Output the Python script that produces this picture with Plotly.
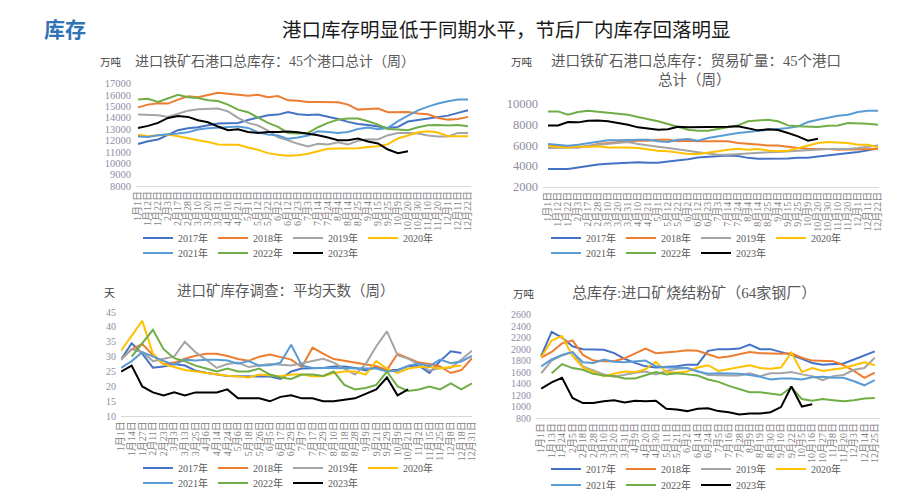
import plotly.graph_objects as go

W, H = 906, 497

years = ["2017年", "2018年", "2019年", "2020年", "2021年", "2022年", "2023年"]
colors = ["#4472C4", "#ED7D31", "#A5A5A5", "#FFC000", "#5B9BD5", "#70AD47", "#000000"]

# ---------- Chart 1: 进口铁矿石港口总库存：45个港口总计（周） ----------
c1_labels = ["1月1日", "1月12日", "1月22日", "2月3日", "2月17日", "2月28日", "3月10日", "3月20日",
             "3月31日", "4月10日", "4月21日", "5月1日", "5月12日", "5月22日", "6月2日", "6月12日",
             "6月23日", "7月3日", "7月14日", "7月24日", "8月4日", "8月14日", "8月25日", "9月4日",
             "9月15日", "9月25日", "10月9日", "10月20日", "10月30日", "11月10日", "11月20日",
             "12月1日", "12月11日", "12月22日"]
c1_2017 = [11700, 11940, 12090, 12530, 12910, 13080, 13170, 13350, 13490, 13520, 13550, 13810, 14020, 14220,
           14280, 14510, 14310, 14250, 14280, 14110, 13900, 13640, 13460, 13370, 13230, 13110, 13200, 13670,
           13810, 13930, 14050, 14190, 14430, 14660]
c1_2018 = [14920, 15160, 15270, 15250, 15600, 15890, 15800, 16030, 16210, 16120, 16060, 15950, 16030, 15800,
           15920, 15540, 15510, 15390, 15390, 15360, 15360, 15160, 14720, 14780, 14810, 14490, 14510, 14510,
           14370, 14310, 13990, 13840, 13900, 14080]
c1_2019 = [14280, 14250, 14220, 14080, 14370, 14630, 14750, 14780, 14810, 14570, 13990, 13550, 13320, 12880,
           12290, 12030, 11710, 11470, 11710, 11650, 11850, 11650, 11970, 12120, 12090, 12470, 12670, 12670,
           12610, 12440, 12350, 12350, 12670, 12670]
c1_2020 = [12500, 12380, 12470, 12530, 12380, 12180, 12030, 11880, 11650, 11620, 11620, 11390, 11180, 10890,
           10740, 10660, 10710, 10830, 11040, 11270, 11300, 11300, 11330, 11440, 11500, 11680, 12180, 12440,
           12730, 12820, 12700, 12380, 12380, 12380]
c1_2021 = [12350, 12320, 12470, 12530, 12610, 12730, 12970, 13080, 13140, 13200, 13230, 13110, 12730, 12530,
           12440, 12150, 12260, 12440, 12820, 12760, 12670, 12760, 13020, 13140, 12990, 13110, 13700, 14190,
           14660, 14980, 15250, 15450, 15600, 15600]
c1_2022 = [15600, 15680, 15390, 15680, 16030, 15800, 15740, 15540, 15480, 15160, 14720, 14490, 13990, 13550,
           13200, 12670, 12610, 12670, 13170, 13550, 13840, 13930, 13930, 13700, 13400, 13020, 12970, 12910,
           13170, 13340, 13370, 13320, 13370, 13260]
c1_2023 = [13110, 13290, 13550, 13990, 14160, 14080, 13780, 13610, 13230, 12910, 12990, 12760, 12670, 12760,
           12760, 12790, 12730, 12590, 12470, 12260, 12030, 12030, 12180, 11910, 11740, 11210, 10890, 11060]

# ---------- Chart 2: 进口铁矿石港口总库存：贸易矿量：45个港口总计（周） ----------
c2_labels = c1_labels
c2_2017 = [3700, 3680, 3700, 3850, 4000, 4130, 4220, 4270, 4320, 4350, 4300, 4300, 4420, 4500, 4650, 4820,
           4900, 4950, 5000, 4950, 4780, 4700, 4700, 4720, 4720, 4780, 4800, 4900, 5000, 5100, 5250, 5350,
           5500, 5700]
c2_2018 = [5980, 5890, 5820, 5790, 5890, 6110, 6210, 6300, 6370, 6430, 6430, 6530, 6530, 6370, 6430, 6370,
           6370, 6300, 6370, 6210, 6110, 6050, 5980, 5980, 5820, 5730, 5660, 5660, 5630, 5570, 5570, 5570,
           5600, 5630]
c2_2019 = [5730, 5730, 5790, 5790, 5950, 6050, 6140, 6210, 6300, 6110, 5950, 5860, 5730, 5630, 5470, 5310,
           5180, 5080, 5080, 5150, 5150, 5250, 5310, 5340, 5410, 5410, 5500, 5600, 5630, 5630, 5630, 5730,
           5890, 5980]
c2_2020 = [5950, 5820, 5790, 5890, 5820, 5890, 5790, 5820, 5790, 5730, 5570, 5470, 5410, 5250, 5150, 5150,
           5250, 5410, 5570, 5660, 5570, 5630, 5500, 5410, 5470, 5730, 5950, 6210, 6300, 6270, 6210, 6050,
           6050, 5790]
c2_2021 = [6110, 6050, 5950, 6050, 6210, 6370, 6470, 6470, 6530, 6530, 6530, 6370, 6300, 6530, 6590, 6430,
           6690, 6850, 7080, 7170, 7270, 7400, 7490, 7560, 7650, 7820, 8230, 8460, 8680, 8840, 8940, 9200,
           9330, 9330]
c2_2022 = [9260, 9260, 8940, 9200, 9330, 9230, 9100, 9040, 8940, 8710, 8520, 8300, 8040, 7750, 7490, 7400,
           7400, 7560, 7750, 7910, 8300, 8360, 8460, 8300, 7910, 7820, 7750, 7750, 7880, 7910, 8140, 8140,
           8070, 7980]
c2_2023 = [7910, 7910, 8230, 8200, 8360, 8390, 8300, 8140, 7980, 7720, 7620, 7490, 7530, 7780, 7720, 7720,
           7780, 7780, 7780, 7820, 7590, 7430, 7530, 7460, 7170, 6850, 6430, 6630]

# ---------- Chart 3: 进口矿库存调查：平均天数（周） ----------
c3_labels = ["1月1日", "1月14日", "1月27日", "2月11日", "2月23日", "3月3日", "3月13日", "3月25日", "4月6日",
             "4月14日", "4月24日", "5月6日", "5月18日", "5月26日", "6月5日", "6月17日", "6月29日", "7月7日",
             "7月17日", "7月29日", "8月10日", "8月18日", "8月28日", "9月9日", "9月21日", "9月29日", "10月9日",
             "10月21日", "11月2日", "11月15日", "11月25日", "12月8日", "12月18日", "12月31日"]
c3_2017 = [29, 34.5, 31, 26.3, 26.7, 27.5, 27, 25.3, 24.6, 24, 23.5, 23.4, 23.4, 23.4, 23.3, 22.5, 25, 26,
           26.2, 26.2, 26.7, 26.7, 26.2, 25.4, 26.4, 25.5, 25.5, 26.8, 27, 24.5, 28.5, 31.8, 31.2, None]
c3_2018 = [29, 32.5, 34.3, 30.5, 27.5, 28, 29.3, 30.3, 31, 31, 30.2, 29.2, 28.6, 30, 30.7, 29.8, 29, 26.5,
           33, 31, 29.2, 28.6, 28, 27.4, 26.8, 25.5, 31, 29.5, 28, 27.5, 26.7, 24.5, 25.5, 29.5]
c3_2019 = [29, 32.5, 31.5, 28.5, 29.3, 30, 35, 31.5, 29, 26.2, 27.5, 28, 26.5, 27, 27.5, 27.3, 27, 27.8,
           28.5, 29.3, 28, 26, 24, 27.5, 33.5, 38.5, 30.5, 29.3, 27.3, 25.3, 26.2, 26.3, 29, 32]
c3_2020 = [32, 37, 42, 31, 27.5, 26.5, 25.5, 25, 24.5, 24, 23.6, 23.3, 23, 24, 23.8, 23.4, 24, 24, 23.4,
           23.4, 24.5, 25, 25, 24, 28.5, 26, 24.5, 26, 26.5, 26.5, 26, 26.5, 27, None]
c3_2021 = [26.2, 28.5, 31.5, 30, 28.6, 27.3, 29, 28.7, 29, 29, 28.7, 27.6, 28.5, 27, 27.1, 28, 34, 27, 26.2,
           26.2, 26.2, 26.2, 26.2, 26, 26, 25, 25.3, 27, 27.7, 26.8, 29, 27.8, 28.4, 30.3]
c3_2022 = [None, 30, 34.5, 39, 32.5, 29.5, 28.5, 27, 26, 25, 26, 25, 25, 26, 24, 23, 22.5, 24, 24, 23.5,
           25, 20.5, 19, 19.5, 20.5, 25, 20, 18.5, 19, 20, 19, 21, 19, 21]
c3_2023 = [25, 27, 20, 18, 17, 18, 17, 18, 18, 18, 19, 16, 16, 16, 15, 16.5, 17, 16, 16, 15, 15, 15.5, 16,
           17.5, 19, 23, 17, 19]

# ---------- Chart 4: 总库存:进口矿烧结粉矿（64家钢厂） ----------
c4_labels = ["1月1日", "1月13日", "1月24日", "2月5日", "2月18日", "2月28日", "3月10日", "3月20日", "3月31日",
             "4月9日", "4月20日", "4月30日", "5月11日", "5月21日", "6月2日", "6月14日", "6月24日", "7月5日",
             "7月16日", "7月28日", "8月9日", "8月19日", "8月30日", "9月10日", "9月22日", "10月5日", "10月16日",
             "10月27日", "11月8日", "11月20日", "12月3日", "12月14日", "12月25日"]
c4_2017 = [1880, 2300, 2200, 2050, 2000, 2000, 1990, 1930, 1830, 1760, 1700, 1680, 1690, 1700, 1730, 1730,
           1970, 2000, 2000, 2010, 2080, 2000, 2000, 1950, 1900, 1830, 1760, 1730, 1740, 1750, 1820, 1890, 1960]
c4_2018 = [1850, 1950, 2100, 2150, 1900, 1800, 1790, 1790, 1840, 1930, 2010, 1930, 1940, 1960, 1980, 1970,
           1910, 1850, 1870, 1910, 1950, 1930, 1920, 1920, 1930, 1850, 1800, 1800, 1790, 1720, 1620, 1500, 1590]
c4_2019 = [1580, 1800, 1890, 1950, 1700, 1630, 1560, 1520, 1560, 1590, 1610, 1560, 1620, 1660, 1670, 1620,
           1550, 1540, 1540, 1540, 1580, 1530, 1580, 1580, 1600, 1560, 1530, 1460, 1530, 1550, 1640, 1670, 1850]
c4_2020 = [1860, 2150, 2230, 1880, 1680, 1600, 1530, 1570, 1610, 1600, 1650, 1780, 1600, 1590, 1610, 1680,
           1720, 1620, 1650, 1690, 1720, 1670, 1660, 1680, 1940, 1600, 1670, 1620, 1640, 1670, 1720, 1770, 1720]
c4_2021 = [1700, 1820, 1900, 1950, 1770, 1760, 1820, 1780, 1770, 1790, 1800, 1700, 1680, 1680, 1670, 1610,
           1570, 1580, 1580, 1570, 1550, 1520, 1470, 1490, 1490, 1470, 1510, 1520, 1500, 1500, 1440, 1370, 1460]
c4_2022 = [None, 1580, 1740, 1670, 1640, 1570, 1540, 1530, 1490, 1490, 1540, 1600, 1560, 1580, 1560, 1540,
           1470, 1430, 1360, 1300, 1250, 1250, 1220, 1200, 1340, 1130, 1100, 1130, 1110, 1090, 1110, 1140, 1150]
c4_2023 = [1310, 1420, 1500, 1150, 1060, 1060, 1090, 1110, 1070, 1100, 1090, 1100, 960, 950, 920, 960, 970,
           920, 900, 860, 880, 880, 900, 990, 1350, 1000, 1040]

# ---------------------------------------------------------------------------
SERIF = "Liberation Serif, Noto Sans CJK SC, serif"
CJK = "Noto Sans CJK SC, sans-serif"


def px_x(p):
    return p / W


def px_y(p):
    return (H - p) / H


charts = [
    dict(labels=c1_labels, series=[c1_2017, c1_2018, c1_2019, c1_2020, c1_2021, c1_2022, c1_2023],
         xdom=(128, 463), ydom=(178, 75.7), xr=[-0.2, 33.3], yr=[8000, 17000],
         yt=list(range(8000, 17001, 1000)), yfs=10.5, leg_x=130, leg_y=(230, 245)),
    dict(labels=c2_labels, series=[c2_2017, c2_2018, c2_2019, c2_2020, c2_2021, c2_2022, c2_2023],
         xdom=(535, 871), ydom=(178.7, 95.7), xr=[-0.5, 33.1], yr=[2000, 10000],
         yt=list(range(2000, 10001, 2000)), yfs=12.5, leg_x=538, leg_y=(230, 245)),
    dict(labels=c3_labels, series=[c3_2017, c3_2018, c3_2019, c3_2020, c3_2021, c3_2022, c3_2023],
         xdom=(113, 464), ydom=(408.2, 304), xr=[0, 33], yr=[10, 45],
         yt=list(range(10, 46, 5)), yfs=10, leg_x=130, leg_y=(460, 475)),
    dict(labels=c4_labels, series=[c4_2017, c4_2018, c4_2019, c4_2020, c4_2021, c4_2022, c4_2023],
         xdom=(528, 872), ydom=(410, 306.7), xr=[-0.5, 32.5], yr=[800, 2600],
         yt=list(range(800, 2601, 200)), yfs=10, leg_x=538, leg_y=(461, 477)),
]

fig = go.Figure()
layout = dict(width=W, height=H, margin=dict(l=0, r=0, t=0, b=0, autoexpand=False),
              paper_bgcolor="white", plot_bgcolor="white", showlegend=True, hovermode=False)

for ci, ch in enumerate(charts):
    n = ci + 1
    xa = "x" if n == 1 else f"x{n}"
    ya = "y" if n == 1 else f"y{n}"
    for yi, (name, col, vals) in enumerate(zip(years, colors, ch["series"])):
        lg = 2 * ci + 1 if yi < 4 else 2 * ci + 2
        fig.add_trace(go.Scatter(
            x=list(range(len(vals))), y=vals, mode="lines", name=name,
            line=dict(color=col, width=2), xaxis=xa, yaxis=ya,
            legend="legend" if lg == 1 else f"legend{lg}", connectgaps=False))
    xkey = "xaxis" if n == 1 else f"xaxis{n}"
    ykey = "yaxis" if n == 1 else f"yaxis{n}"
    layout[xkey] = dict(domain=[px_x(ch["xdom"][0]), px_x(ch["xdom"][1])], range=ch["xr"], anchor=ya,
                        tickmode="array", tickvals=list(range(len(ch["labels"]))), ticktext=ch["labels"],
                        tickangle=-90, showgrid=False, zeroline=False, showline=True,
                        linecolor="#D9D9D9", linewidth=1, ticks="",
                        tickfont=dict(family=SERIF, size=10, color="#7F7F7F"), fixedrange=True)
    layout[ykey] = dict(domain=[px_y(ch["ydom"][0]), px_y(ch["ydom"][1])], range=ch["yr"], anchor=xa,
                        tickmode="array", tickvals=ch["yt"], ticktext=[str(v) for v in ch["yt"]],
                        showgrid=False, zeroline=False,
                        showline=False, ticks="", ticklabelstandoff=4,
                        tickfont=dict(family=SERIF, size=ch["yfs"], color="#8E8EA6"), fixedrange=True)
    for r in range(2):
        lg = 2 * ci + 1 + r
        key = "legend" if lg == 1 else f"legend{lg}"
        layout[key] = dict(orientation="h", x=px_x(ch["leg_x"]), y=px_y(ch["leg_y"][r]),
                           xanchor="left", yanchor="middle", bgcolor="rgba(0,0,0,0)",
                           font=dict(family=SERIF, size=10, color="#595959"),
                           itemwidth=30, traceorder="normal", itemclick=False, itemdoubleclick=False)

ann = []


def add_text(text, x, y, size, color, family=CJK, xanchor="center"):
    ann.append(dict(text=text, x=px_x(x), y=px_y(y), xref="paper", yref="paper", showarrow=False,
                    xanchor=xanchor, yanchor="middle", font=dict(family=family, size=size, color=color)))


add_text("<b>库存</b>", 56.5, 20, 21, "#2E75B6")
add_text("港口库存明显低于同期水平，节后厂内库存回落明显", 498, 20, 19.5, "#1A1A1A")
add_text("万吨", 103, 53, 10.5, "#404040")
add_text("进口铁矿石港口总库存：45个港口总计（周）", 267, 53, 14, "#595959", SERIF)
add_text("万吨", 514, 53, 10.5, "#404040")
add_text("进口铁矿石港口总库存：贸易矿量：45个港口", 688, 53, 14.5, "#595959", SERIF)
add_text("总计（周）", 686, 72, 14.5, "#595959", SERIF)
add_text("天", 101, 284, 11, "#404040")
add_text("进口矿库存调查：平均天数（周）", 278, 283, 14.5, "#595959", SERIF)
add_text("万吨", 516, 285, 10.5, "#404040")
add_text("总库存:进口矿烧结粉矿（64家钢厂）", 686, 285, 15, "#595959", SERIF)

layout["annotations"] = ann
fig.update_layout(**layout)
fig.write_html("out.html")
